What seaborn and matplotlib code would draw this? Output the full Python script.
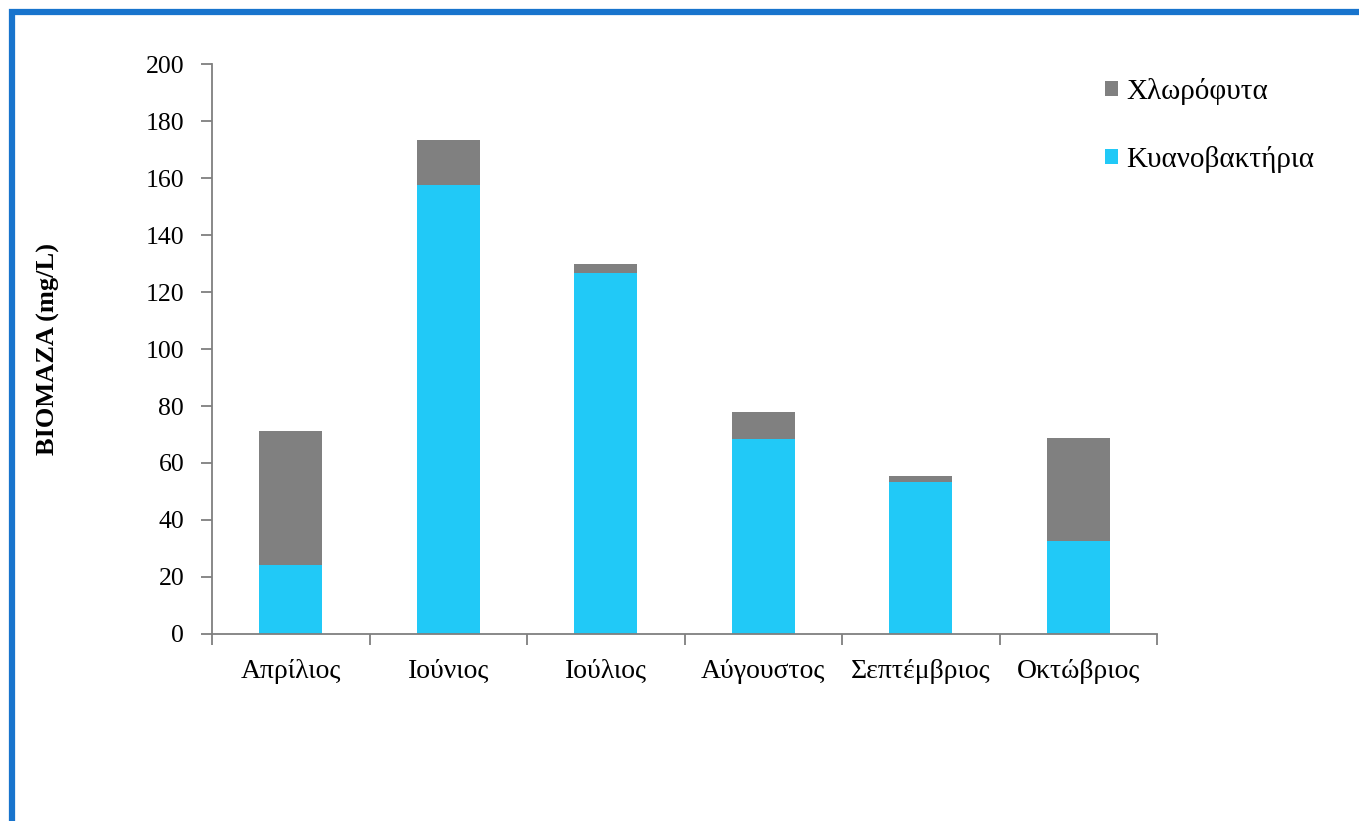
import matplotlib
matplotlib.use("Agg")
import matplotlib.pyplot as plt
from matplotlib.patches import Rectangle, Patch
from matplotlib.ticker import FixedLocator
import seaborn as sns
import pandas as pd

months = ["Απρίλιος", "Ιούνιος", "Ιούλιος", "Αύγουστος", "Σεπτέμβριος", "Οκτώβριος"]
cyanobacteria = [24.2, 157.5, 126.8, 68.4, 53.3, 32.6]
chlorophyta = [47.0, 15.8, 3.0, 9.5, 2.1, 36.2]
y_ticks = [0, 20, 40, 60, 80, 100, 120, 140, 160, 180, 200]

CYAN = "#21C9F7"
GREY = "#808080"
AXIS = "#7f7f7f"

sns.set_theme(style="white")
plt.rcParams["font.family"] = ["Liberation Serif", "DejaVu Serif"]
plt.rcParams["text.color"] = "black"
plt.rcParams["axes.labelcolor"] = "black"
plt.rcParams["xtick.color"] = "black"
plt.rcParams["ytick.color"] = "black"

df = pd.DataFrame({
    "month": months,
    "cyan": cyanobacteria,
    "total": [c + g for c, g in zip(cyanobacteria, chlorophyta)],
})

fig = plt.figure(figsize=(13.59, 8.21), dpi=100)
ax = fig.add_axes([0.156, 0.2278, 0.6954, 0.6942])

sns.barplot(data=df, x="month", y="total", color=GREY, width=0.4,
            saturation=1, linewidth=0, ax=ax)
sns.barplot(data=df, x="month", y="cyan", color=CYAN, width=0.4,
            saturation=1, linewidth=0, ax=ax)

ax.set_xlim(-0.5, len(months) - 0.5)
ax.set_ylim(0, 200)
ax.set_yticks(y_ticks)
ax.set_yticklabels([str(v) for v in y_ticks])
ax.set_xlabel("")
ax.set_ylabel("BIOMAZA (mg/L)", fontsize=19, fontweight="bold")
ax.yaxis.set_label_coords(-0.161, 0.5)

ax.xaxis.set_minor_locator(FixedLocator([i - 0.5 for i in range(len(months) + 1)]))
ax.tick_params(axis="x", which="major", length=0, labelsize=20, pad=18,
               labelcolor="black")
ax.tick_params(axis="x", which="minor", length=8, width=1.3, color=AXIS, bottom=True)
ax.tick_params(axis="y", which="major", length=8, width=1.3, color=AXIS, left=True,
               labelsize=18.5, pad=12, labelcolor="black")

for side in ["top", "right"]:
    ax.spines[side].set_visible(False)
for side in ["left", "bottom"]:
    ax.spines[side].set_color(AXIS)
    ax.spines[side].set_linewidth(1.3)

handles = [Patch(facecolor=GREY, edgecolor="none", label="Χλωρόφυτα"),
           Patch(facecolor=CYAN, edgecolor="none", label="Κυανοβακτήρια")]
fig.legend(handles=handles, loc="upper left", bbox_to_anchor=(1105 / 1359, 1 - 78 / 821),
           frameon=False, fontsize=21, handlelength=0.45, handleheight=0.45,
           handletextpad=0.28, labelspacing=1.4, borderpad=0, borderaxespad=0)

# blue frame around the slide
fig.patches.append(Rectangle((12 / 1359, -0.05), 1.2, (821 - 12) / 821 + 0.05,
                             transform=fig.transFigure, fill=False,
                             edgecolor="#1874CD", linewidth=4.5, zorder=10))

fig.savefig("out.png", dpi=100, facecolor="white")
